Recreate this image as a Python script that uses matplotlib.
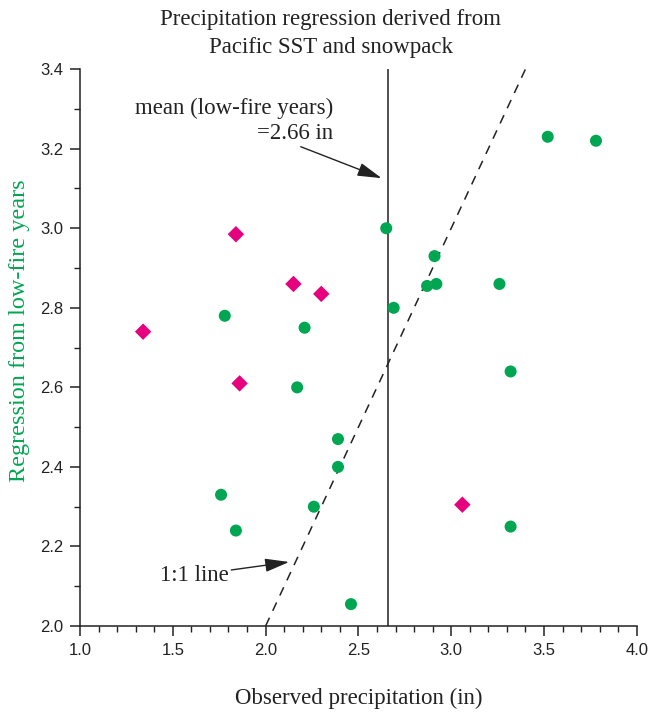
import matplotlib
matplotlib.use("Agg")
import matplotlib.pyplot as plt
from matplotlib.ticker import MultipleLocator

# low-fire years (green circles)
obs_low = [2.65, 3.52, 3.78, 2.91, 2.87, 2.92, 3.26, 2.69, 1.78, 2.21,
           2.17, 3.32, 2.39, 2.39, 1.76, 1.84, 2.26, 3.32, 2.46]
reg_low = [3.00, 3.23, 3.22, 2.93, 2.855, 2.86, 2.86, 2.80, 2.78, 2.75,
           2.60, 2.64, 2.47, 2.40, 2.33, 2.24, 2.30, 2.25, 2.055]

# high-fire years (magenta diamonds)
obs_high = [1.84, 2.15, 2.30, 1.34, 1.86, 3.06]
reg_high = [2.985, 2.86, 2.835, 2.74, 2.61, 2.305]

mean_low = 2.66
one_to_one = [2.0, 3.4]

GREEN = "#00a651"
MAGENTA = "#e6007e"
INK = "#222222"
SERIF = "Liberation Serif"
SANS = "Liberation Sans"
FS = 16.5

fig = plt.figure(figsize=(6.52, 7.13), dpi=100)
ax = fig.add_axes([0.1227, 0.122, 0.854, 0.781])

ax.plot(one_to_one, one_to_one, color=INK, lw=1.1, ls=(0, (6, 5)), zorder=1)
ax.axvline(mean_low, color=INK, lw=1.1, zorder=1)
ax.scatter(obs_low, reg_low, s=75, color=GREEN, edgecolor="none", zorder=3)
ax.scatter(obs_high, reg_high, marker="D", s=70, color=MAGENTA, edgecolor="none", zorder=3)

ax.set_xlim(1.0, 4.0)
ax.set_ylim(2.0, 3.4)
ax.xaxis.set_major_locator(MultipleLocator(0.5))
ax.xaxis.set_minor_locator(MultipleLocator(0.1))
ax.yaxis.set_major_locator(MultipleLocator(0.2))
ax.yaxis.set_minor_locator(MultipleLocator(0.1))
ax.xaxis.set_major_formatter(plt.FormatStrFormatter("%.1f"))
ax.yaxis.set_major_formatter(plt.FormatStrFormatter("%.1f"))
for side in ("top", "right"):
    ax.spines[side].set_visible(False)
for side in ("left", "bottom"):
    ax.spines[side].set_linewidth(1.1)
    ax.spines[side].set_color(INK)
ax.tick_params(which="major", direction="out", length=7, width=1.1, color=INK,
               labelsize=12, pad=5)
ax.tick_params(which="minor", direction="out", length=4, width=1.0, color=INK)
for lab in ax.get_xticklabels() + ax.get_yticklabels():
    lab.set_fontfamily(SANS)
    lab.set_color(INK)

ax.set_xlabel("Observed precipitation (in)", fontfamily=SERIF, fontsize=FS,
              color=INK, labelpad=22)
ax.set_ylabel("Regression from low-fire years", fontfamily=SERIF, fontsize=17.5,
              color=GREEN)
ax.yaxis.set_label_coords(-0.09, 0.53)
fig.suptitle("Precipitation regression derived from\nPacific SST and snowpack",
             fontfamily=SERIF, fontsize=FS, color=INK, x=0.507, y=0.987,
             linespacing=1.4)

arrow = dict(arrowstyle="-|>,head_length=0.9,head_width=0.25", color=INK, lw=1.0,
             shrinkA=0, shrinkB=0)
ax.annotate("mean (low-fire years)\n=2.66 in", xy=(2.625, 3.126), xytext=(2.365, 3.212),
            ha="right", va="bottom", fontfamily=SERIF, fontsize=FS, color=INK,
            multialignment="right", linespacing=1.25, arrowprops=arrow)
ax.annotate("1:1 line", xy=(2.127, 2.161), xytext=(1.80, 2.128),
            ha="right", va="center", fontfamily=SERIF, fontsize=FS, color=INK,
            arrowprops=arrow)

fig.savefig("out.png", dpi=100, facecolor="white")
